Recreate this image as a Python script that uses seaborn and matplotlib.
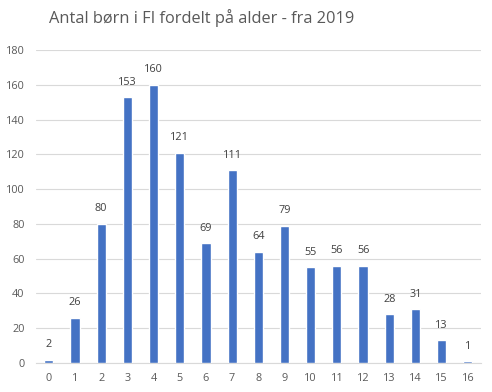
import matplotlib
matplotlib.use('Agg')
import matplotlib.pyplot as plt
import seaborn as sns
import pandas as pd

ages = [str(a) for a in range(17)]
counts = [2, 26, 80, 153, 160, 121, 69, 111, 64, 79, 55, 56, 56, 28, 31, 13, 1]
y_ticks = list(range(0, 181, 20))
title = 'Antal børn i FI fordelt på alder - fra 2019'

sns.set_style('white')
plt.rcParams['font.family'] = ['Open Sans', 'DejaVu Sans']

df = pd.DataFrame({'alder': ages, 'antal': counts})

fig = plt.figure(figsize=(4.92, 3.92), dpi=100)
ax = fig.add_axes([0.0725, 0.074, 0.905, 0.798])
sns.barplot(data=df, x='alder', y='antal', color='#4472C4', width=0.35,
            saturation=1, ax=ax, zorder=3)

ax.set_ylim(0, 180)
ax.set_yticks(y_ticks)
ax.set_xlim(-0.5, len(ages) - 0.5)
ax.grid(axis='y', color='#D9D9D9', linewidth=0.8, zorder=0)
for s in ['top', 'right', 'left']:
    ax.spines[s].set_visible(False)
ax.spines['bottom'].set_color('#D9D9D9')
ax.tick_params(axis='both', length=0, labelsize=7.8, colors='#595959')
ax.tick_params(axis='x', pad=7)
ax.tick_params(axis='y', pad=8)
ax.set_xlabel('')
ax.set_ylabel('')

for i, v in enumerate(counts):
    ax.text(i, v + 5.5, str(v), ha='center', va='bottom', fontsize=7.8, color='#404040')

fig.text(0.41, 0.955, title, ha='center', va='center', fontsize=11.8, color='#595959')

fig.savefig('out.png', dpi=100)
